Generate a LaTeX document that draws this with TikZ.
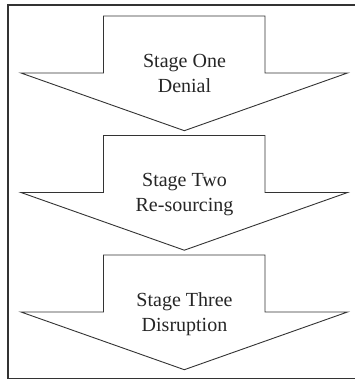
\documentclass[tikz,border=0pt]{standalone}
\usepackage{fontspec}
\setmainfont{Liberation Serif}
\usepackage{xcolor}
\usepackage{tikz}
\usetikzlibrary{positioning}

\tikzset{
    stagearrow/.style={draw=black!80, line width=0.9pt, fill=white, line join=miter},
    stagetext/.style={anchor=base, text=black!85, font=\fontsize{20}{25}\selectfont}
}

\begin{document}
\begin{tikzpicture}[x=1pt,y=-1pt]
        \useasboundingbox (0,0) rectangle (355,380);

        % Frame
        \draw[black!80, line width=1.2pt] (360,5) -- (8,5) -- (8,378.5) -- (360,378.5);

        % Stage one
        \draw[stagearrow] (103.5,16) -- (265,16) -- (265,73) -- (347.5,73)
            -- (184.3,130.7) -- (21,73) -- (103.5,73) -- cycle;
        \node[stagetext] (onetitle) at (184.5,67) {Stage One};
        \node[stagetext] (onename) at (184.5,92) {Denial};

        % Stage two
        \begin{scope}[shift={(0,119.5)}]
            \draw[stagearrow] (103.5,16) -- (265,16) -- (265,73) -- (347.5,73)
                -- (184.3,130.7) -- (21,73) -- (103.5,73) -- cycle;
            \node[stagetext] (twotitle) at (184.5,67) {Stage Two};
            \node[stagetext] (twoname) at (184.5,92) {Re-sourcing};
        \end{scope}

        % Stage three
        \begin{scope}[shift={(0,239)}]
            \draw[stagearrow] (103.5,16) -- (265,16) -- (265,73) -- (347.5,73)
                -- (184.3,130.7) -- (21,73) -- (103.5,73) -- cycle;
            \node[stagetext] (threetitle) at (184.5,67) {Stage Three};
            \node[stagetext] (threename) at (184.5,92) {Disruption};
        \end{scope}
\end{tikzpicture}
\end{document}
